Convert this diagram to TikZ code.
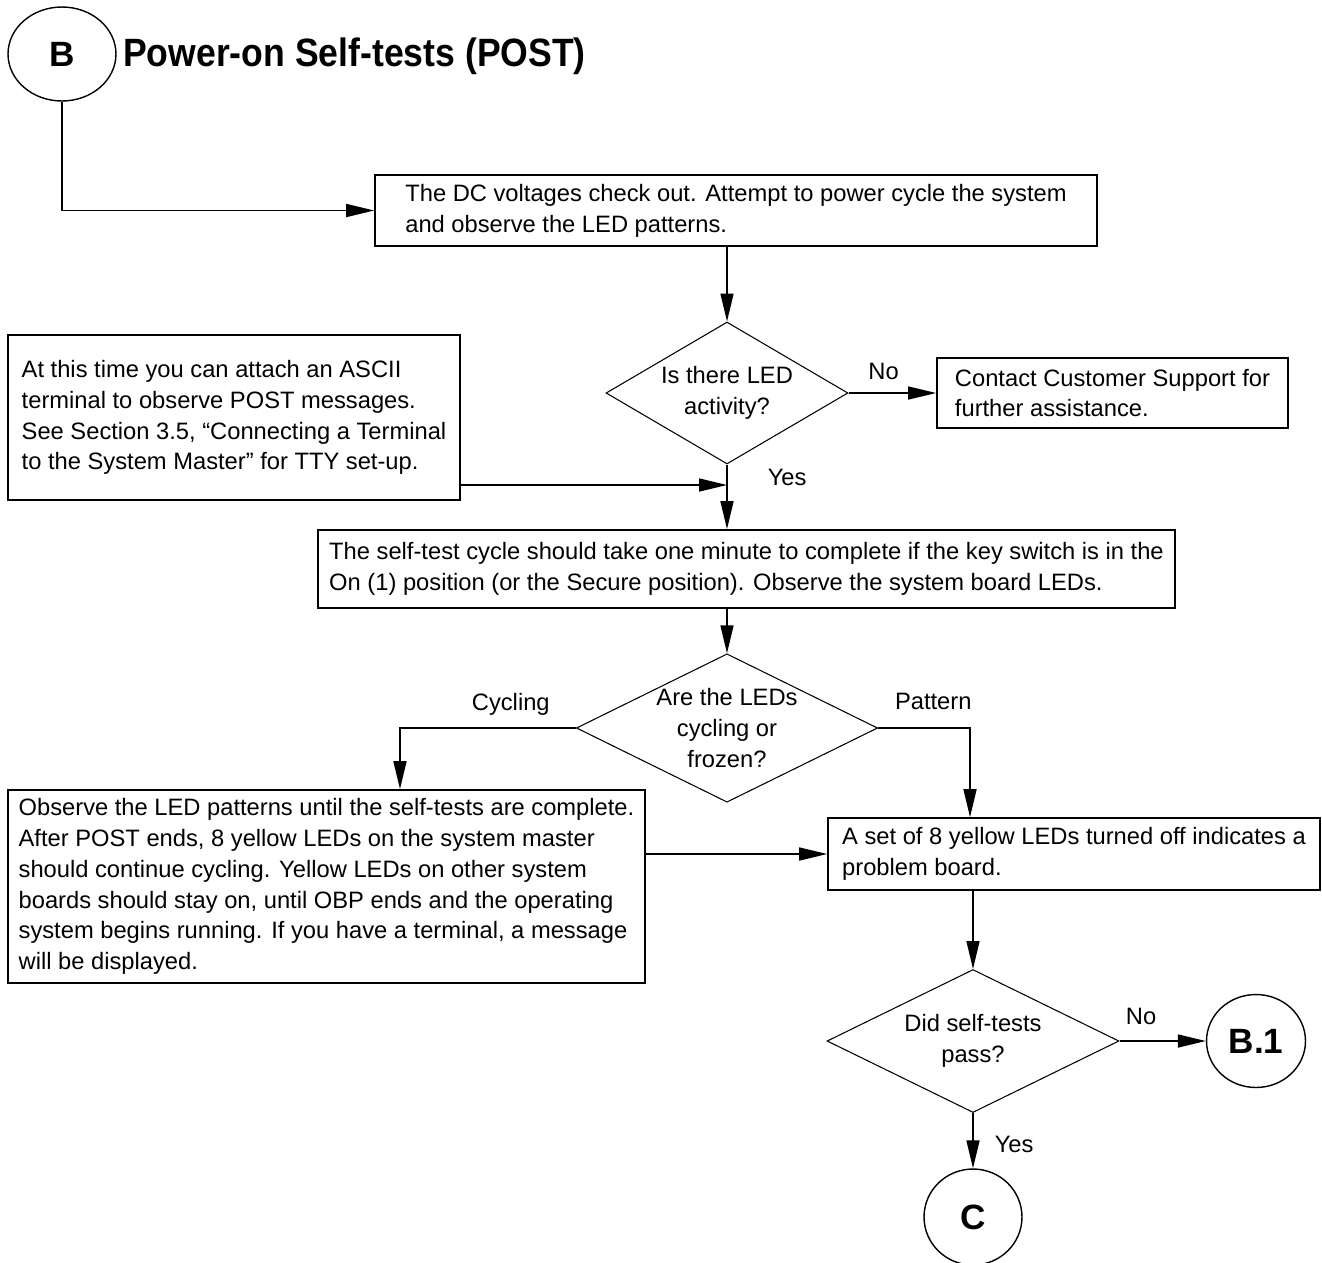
\documentclass[tikz,border=0pt]{standalone}
\usepackage{fontspec}
\setmainfont{Liberation Sans}
\newfontfamily\headfont[FakeStretch=0.9]{Liberation Sans}
\usetikzlibrary{shapes.geometric, arrows.meta, calc}

\tikzset{
  procbox/.style   = {draw, line width=1pt, rectangle, align=left, inner sep=0pt},
  decision/.style  = {draw, line width=0.6pt, diamond, align=center, inner sep=0pt},
  connector/.style = {draw, line width=0.8pt, ellipse, inner sep=0pt,
                      font=\fontsize{20}{24}\selectfont\bfseries},
  flow/.style      = {line width=0.9pt, -{Triangle[length=0.56cm, width=0.26cm]}},
  edgelabel/.style = {inner sep=0pt}
}

\begin{document}
\begin{tikzpicture}[x = 0.02cm, y = -0.02cm,
                    font = \fontsize{13.5}{17.5}\selectfont]

    \useasboundingbox (0,0) rectangle (1322,1262);

    % heading
    \node[connector, minimum width=2.16cm, minimum height=1.88cm] (cB) at (62,54) {B};
    \node[anchor=west, font=\headfont\fontsize{22.5}{26}\selectfont\bfseries] (title) at (117,56)
        {Power-on Self-tests (POST)};

    % boxes and decisions
    \node[procbox, minimum width=14.44cm, minimum height=1.42cm] (dcbox) at (736,210.5)
        {The DC voltages check out. Attempt to power cycle the system\\
         and observe the LED patterns.};
    \node[decision, aspect=1.7, minimum width=4.84cm, minimum height=2.84cm] (qled) at (727,393)
        {Is there LED\\activity?};
    \node[procbox, minimum width=7.02cm, minimum height=1.4cm] (support) at (1112.5,393)
        {Contact Customer Support for\\further assistance.};
    \node[procbox, minimum width=9.04cm, minimum height=3.3cm] (ascii) at (234,417.5)
        {At this time you can attach an ASCII\\
         terminal to observe POST messages.\\
         See Section 3.5, “Connecting a Terminal\\
         to the System Master” for TTY set-up.};
    \node[procbox, minimum width=17.14cm, minimum height=1.56cm] (selftest) at (746.5,569)
        {The self-test cycle should take one minute to complete if the key switch is in the\\
         On (1) position (or the Secure position). Observe the system board LEDs.};
    \node[decision, aspect=2.03, minimum width=5.9cm, minimum height=2.9cm] (qcyc) at (727,728)
        {Are the LEDs\\cycling or\\frozen?};
    \node[procbox, minimum width=12.74cm, minimum height=3.86cm] (observe) at (326.5,886.5)
        {Observe the LED patterns until the self-tests are complete.\\
         After POST ends, 8 yellow LEDs on the system master\\
         should continue cycling. Yellow LEDs on other system\\
         boards should stay on, until OBP ends and the operating\\
         system begins running. If you have a terminal, a message\\
         will be displayed.};
    \node[procbox, minimum width=9.84cm, minimum height=1.44cm] (problem) at (1074,854)
        {A set of 8 yellow LEDs turned off indicates a\\problem board.};
    \node[decision, aspect=2.04, minimum width=5.84cm, minimum height=2.86cm] (qpass) at (973,1041)
        {Did self-tests\\pass?};
    \node[connector, minimum width=1.98cm, minimum height=1.86cm] (cB1) at (1256,1041) {B.1};
    \node[connector, minimum width=1.96cm, minimum height=1.92cm] (cC) at (973,1217) {C};

    \coordinate (join) at (727,485);

    % connectors
    \draw[flow] (cB.south) |- (dcbox.west);
    \draw[flow] (qled.north |- dcbox.south) -- (qled.north);
    \draw[flow] (qled.east) -- node[edgelabel, above=7pt, pos=0.4] {No} (support.west);
    \draw[flow] (join -| ascii.east) -- (join);
    \draw[flow] (qled.south) -- node[edgelabel, right, pos=0.2, xshift=0.8cm] {Yes}
        (qled.south |- selftest.north);
    \draw[flow] (qcyc.north |- selftest.south) -- (qcyc.north);
    \draw[flow] (qcyc.west) -| node[edgelabel, above=7pt, pos=0.185] {Cycling}
        ([xshift=1.47cm]observe.north);
    \draw[flow] (qcyc.east) -| node[edgelabel, above=10pt, pos=0.3] {Pattern}
        ([xshift=-2.08cm]problem.north);
    \draw[flow] (observe.east |- problem.west) -- (problem.west);
    \draw[flow] (qpass.north |- problem.south) -- (qpass.north);
    \draw[flow] (qpass.east) -- node[edgelabel, above=9pt, pos=0.25] {No} (cB1.west);
    \draw[flow] (qpass.south) -- node[edgelabel, right, pos=0.56, xshift=0.42cm] {Yes}
        (cC.north);

\end{tikzpicture}
\end{document}
